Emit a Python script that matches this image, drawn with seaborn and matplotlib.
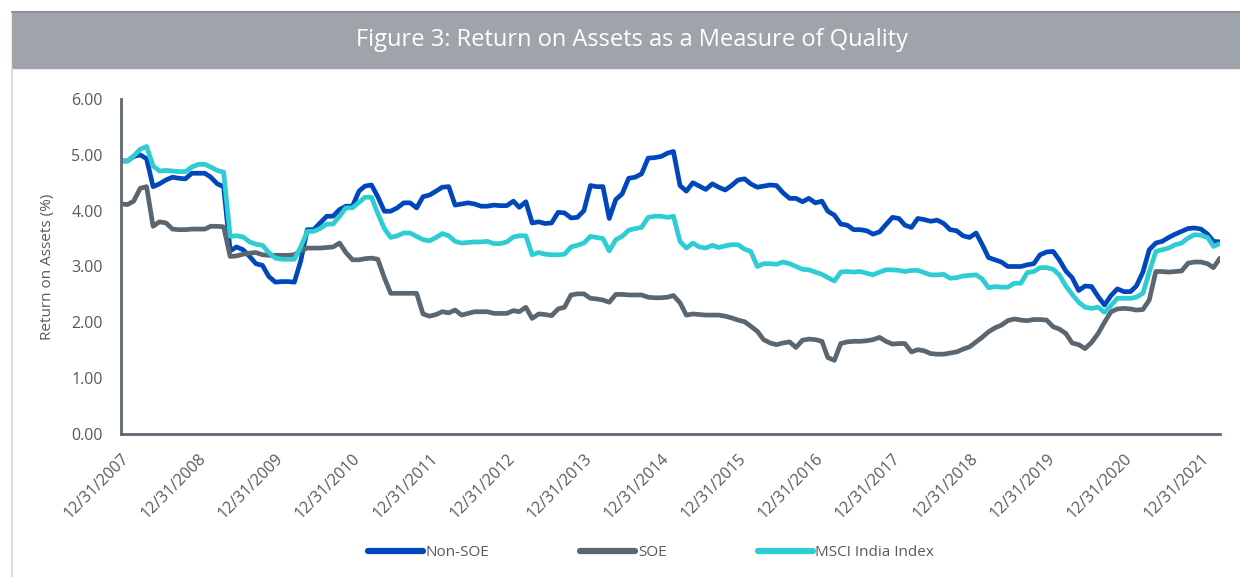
import pandas as pd
import matplotlib.pyplot as plt
import seaborn as sns
from matplotlib.patches import Rectangle
from matplotlib.lines import Line2D

# monthly month-end observations, Dec 2007 - Mar 2022
dates = pd.date_range('2007-12-31', periods=172, freq='ME')

non_soe = [
    4.89, 4.89, 4.97, 5.00, 4.93, 4.43, 4.48, 4.55, 4.60, 4.58,
    4.57, 4.67, 4.67, 4.67, 4.60, 4.48, 4.43, 3.28, 3.35, 3.30,
    3.18, 3.05, 3.02, 2.82, 2.72, 2.73, 2.73, 2.72, 3.10, 3.66,
    3.66, 3.78, 3.90, 3.90, 4.02, 4.08, 4.08, 4.35, 4.44, 4.46,
    4.25, 3.99, 3.99, 4.05, 4.14, 4.14, 4.05, 4.25, 4.28, 4.35,
    4.42, 4.43, 4.10, 4.12, 4.14, 4.12, 4.08, 4.08, 4.10, 4.09,
    4.09, 4.17, 4.06, 4.16, 3.78, 3.80, 3.77, 3.78, 3.97, 3.96,
    3.87, 3.88, 4.00, 4.45, 4.43, 4.43, 3.86, 4.20, 4.30, 4.58,
    4.60, 4.66, 4.94, 4.95, 4.97, 5.03, 5.06, 4.45, 4.35, 4.50,
    4.44, 4.38, 4.48, 4.42, 4.37, 4.45, 4.55, 4.57, 4.48, 4.42,
    4.44, 4.46, 4.45, 4.32, 4.22, 4.22, 4.16, 4.22, 4.14, 4.17,
    3.99, 3.92, 3.76, 3.74, 3.66, 3.66, 3.64, 3.58, 3.62, 3.75,
    3.88, 3.86, 3.74, 3.70, 3.86, 3.84, 3.81, 3.83, 3.77, 3.66,
    3.64, 3.55, 3.52, 3.60, 3.40, 3.16, 3.12, 3.08, 3.00, 3.00,
    3.00, 3.03, 3.05, 3.21, 3.26, 3.27, 3.12, 2.92, 2.80, 2.57,
    2.65, 2.64, 2.46, 2.31, 2.48, 2.60, 2.55, 2.55, 2.65, 2.90,
    3.30, 3.42, 3.45, 3.52, 3.58, 3.63, 3.68, 3.69, 3.67, 3.58,
    3.45, 3.44,
]

soe = [
    4.12, 4.11, 4.17, 4.40, 4.43, 3.72, 3.80, 3.78, 3.67, 3.66,
    3.66, 3.67, 3.67, 3.67, 3.72, 3.72, 3.71, 3.18, 3.19, 3.22,
    3.24, 3.25, 3.21, 3.20, 3.20, 3.20, 3.20, 3.21, 3.28, 3.33,
    3.33, 3.33, 3.34, 3.35, 3.42, 3.25, 3.12, 3.12, 3.14, 3.15,
    3.13, 2.80, 2.52, 2.52, 2.52, 2.52, 2.52, 2.15, 2.11, 2.14,
    2.19, 2.17, 2.22, 2.13, 2.16, 2.19, 2.19, 2.19, 2.16, 2.16,
    2.16, 2.21, 2.19, 2.27, 2.07, 2.15, 2.14, 2.12, 2.24, 2.27,
    2.49, 2.51, 2.51, 2.43, 2.42, 2.40, 2.36, 2.50, 2.50, 2.49,
    2.49, 2.49, 2.45, 2.44, 2.44, 2.45, 2.48, 2.35, 2.13, 2.15,
    2.14, 2.13, 2.13, 2.13, 2.11, 2.08, 2.04, 2.01, 1.93, 1.84,
    1.69, 1.63, 1.60, 1.63, 1.65, 1.55, 1.68, 1.70, 1.69, 1.66,
    1.37, 1.32, 1.62, 1.65, 1.66, 1.66, 1.67, 1.69, 1.73, 1.66,
    1.61, 1.62, 1.62, 1.47, 1.51, 1.49, 1.44, 1.43, 1.43, 1.45,
    1.47, 1.52, 1.56, 1.65, 1.73, 1.83, 1.90, 1.95, 2.03, 2.06,
    2.04, 2.03, 2.05, 2.05, 2.04, 1.92, 1.88, 1.80, 1.63, 1.60,
    1.53, 1.64, 1.80, 2.00, 2.19, 2.24, 2.25, 2.24, 2.22, 2.23,
    2.40, 2.91, 2.91, 2.90, 2.91, 2.92, 3.06, 3.08, 3.08, 3.05,
    2.98, 3.15,
]

msci = [
    4.89, 4.89, 4.98, 5.10, 5.15, 4.80, 4.71, 4.72, 4.71, 4.70,
    4.70, 4.78, 4.83, 4.83, 4.78, 4.72, 4.69, 3.54, 3.55, 3.53,
    3.44, 3.40, 3.38, 3.25, 3.15, 3.13, 3.13, 3.13, 3.35, 3.63,
    3.63, 3.68, 3.76, 3.76, 3.90, 4.05, 4.05, 4.15, 4.24, 4.24,
    3.95, 3.68, 3.52, 3.55, 3.60, 3.60, 3.54, 3.48, 3.46, 3.52,
    3.59, 3.55, 3.45, 3.42, 3.43, 3.44, 3.44, 3.45, 3.41, 3.41,
    3.44, 3.53, 3.55, 3.55, 3.21, 3.25, 3.22, 3.21, 3.21, 3.22,
    3.35, 3.38, 3.42, 3.54, 3.52, 3.50, 3.28, 3.48, 3.54, 3.65,
    3.68, 3.70, 3.88, 3.90, 3.90, 3.88, 3.90, 3.45, 3.33, 3.42,
    3.35, 3.33, 3.38, 3.34, 3.37, 3.39, 3.39, 3.31, 3.27, 3.00,
    3.05, 3.05, 3.04, 3.08, 3.05, 3.00, 2.95, 2.94, 2.90, 2.86,
    2.80, 2.74, 2.90, 2.91, 2.90, 2.91, 2.88, 2.85, 2.90, 2.94,
    2.94, 2.93, 2.91, 2.93, 2.93, 2.89, 2.85, 2.85, 2.86, 2.79,
    2.80, 2.83, 2.84, 2.85, 2.78, 2.62, 2.64, 2.63, 2.63, 2.70,
    2.70, 2.89, 2.91, 2.98, 2.98, 2.95, 2.85, 2.65, 2.50, 2.36,
    2.27, 2.25, 2.27, 2.18, 2.30, 2.43, 2.43, 2.43, 2.45, 2.52,
    2.90, 3.27, 3.30, 3.33, 3.39, 3.42, 3.51, 3.57, 3.56, 3.52,
    3.36, 3.41,
]

series_names = ['Non-SOE', 'SOE', 'MSCI India Index']
colors = ['#0047BB', '#5B6770', '#2ECCD3']
title = 'Figure 3: Return on Assets as a Measure of Quality'
y_label = 'Return on Assets (%)'

df = pd.DataFrame({'date': dates, 'Non-SOE': non_soe, 'SOE': soe,
                   'MSCI India Index': msci})
long_df = df.melt(id_vars='date', var_name='series', value_name='roa')

sns.set_style('white')
plt.rcParams['font.family'] = ['Open Sans', 'DejaVu Sans']

fig = plt.figure(figsize=(12.4, 5.77), dpi=100)
ax = fig.add_axes([121 / 1240, 1 - 434 / 577, (1220 - 121) / 1240, (434 - 99) / 577])

sns.lineplot(data=long_df, x='date', y='roa', hue='series', hue_order=series_names,
             palette=colors, linewidth=3.4, ax=ax, legend=False)

axis_col = '#5F6870'
text_col = '#595959'
ax.set_ylim(0, 6)
ax.set_yticks([0, 1, 2, 3, 4, 5, 6])
ax.set_yticklabels([f'{v:.2f}' for v in range(7)], color=text_col, fontsize=11.5)
ax.set_xlim(dates[0], dates[-1])
xticks = pd.to_datetime([f'{y}-12-31' for y in range(2007, 2022)])
ax.set_xticks(xticks)
ax.set_xticklabels([d.strftime('%m/%d/%Y') for d in xticks], rotation=45,
                   ha='right', rotation_mode='anchor', color=text_col, fontsize=11.5)
ax.tick_params(axis='x', length=0, pad=12)
ax.tick_params(axis='y', length=0, pad=13)
ax.set_xlabel('')
ax.set_ylabel(y_label, color=text_col, fontsize=11, labelpad=12)
for side in ['top', 'right']:
    ax.spines[side].set_visible(False)
for side in ['left', 'bottom']:
    ax.spines[side].set_color(axis_col)
    ax.spines[side].set_linewidth(2)
ax.grid(False)

# title banner and left border
fig.patches.append(Rectangle((12 / 1240, 1 - 68 / 577), 1, 56 / 577,
                             transform=fig.transFigure, color='#9EA4AA', zorder=0))
fig.lines.append(Line2D([12 / 1240, 1], [1 - 12 / 577, 1 - 12 / 577],
                        transform=fig.transFigure, color='#8C9299', linewidth=1.5))
fig.lines.append(Line2D([12 / 1240, 12 / 1240], [0, 1 - 68 / 577],
                        transform=fig.transFigure, color='#D3D6D9', linewidth=1.2))
fig.text(632 / 1240, 1 - 40 / 577, title, color='white', fontsize=17,
         ha='center', va='center')

handles = [Line2D([], [], color=c, linewidth=4.5, solid_capstyle='round') for c in colors]
fig.legend(handles, series_names, loc='center', bbox_to_anchor=(0.525, 1 - 553 / 577),
           ncol=3, frameon=False, handlelength=3.6, handletextpad=0.15,
           columnspacing=6.0, labelcolor=text_col, fontsize=11)

fig.savefig('out.png', dpi=100)
